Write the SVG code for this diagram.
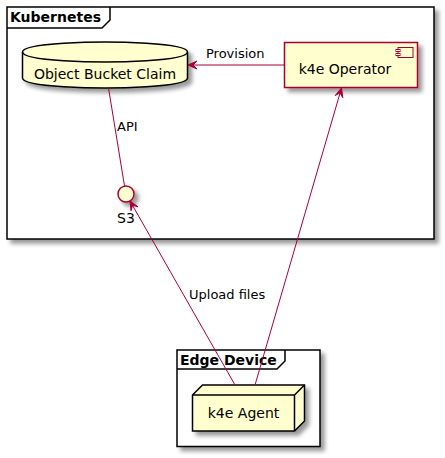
<svg xmlns="http://www.w3.org/2000/svg" width="445" height="458" viewBox="0 0 445 458">
<defs>
<filter id="sh" height="300%" width="300%" x="-1" y="-1">
<feGaussianBlur result="b1" stdDeviation="2.0"/>
<feColorMatrix in="b1" result="b2" type="matrix" values="0 0 0 0 0 0 0 0 0 0 0 0 0 0 0 0 0 0 .4 0"/>
<feOffset dx="4.0" dy="4.0" in="b2" result="b3"/>
<feBlend in="SourceGraphic" in2="b3" mode="normal"/>
</filter>
<style>
text{font-family:"DejaVu Sans","Liberation Sans",sans-serif;fill:#000}
.title{font-size:14px;font-weight:bold}
.lbl{font-size:14px}
.elbl{font-size:13px}
.frame{fill:#FFFFFF;stroke:#000;stroke-width:1.5}
.tab{fill:none;stroke:#000;stroke-width:1.5}
.elem{fill:#FEFECE;stroke-width:1.5}
.conn{fill:none;stroke:#A80036;stroke-width:1}
.head{fill:#A80036;stroke:#A80036;stroke-width:1}
</style>
</defs>

<g id="frame-kubernetes">
<rect class="frame" x="7" y="7" width="427" height="232" filter="url(#sh)"/>
<path class="tab" d="M7,28 L102,28 L110,20 L110,7"/>
<text class="title" x="10" y="22">Kubernetes</text>
</g>

<g id="frame-edge">
<rect class="frame" x="177" y="350" width="143" height="96.5" filter="url(#sh)"/>
<path class="tab" d="M177,369 L277,369 L285,361 L285,350"/>
<text class="title" x="180" y="364.5">Edge Device</text>
</g>

<g id="node-obc">
<path class="elem" stroke="#000" filter="url(#sh)" d="M22.5,52 C22.5,42 105,42 105,42 C105,42 187.5,42 187.5,52 L187.5,78 C187.5,88 105,88 105,88 C105,88 22.5,88 22.5,78 Z"/>
<path fill="none" stroke="#000" stroke-width="1.5" d="M22.5,52 C22.5,62 105,62 105,62 C105,62 187.5,62 187.5,52"/>
<text class="lbl" x="105" y="78.5" text-anchor="middle">Object Bucket Claim</text>
</g>

<g id="node-operator">
<rect class="elem" stroke="#A80036" x="284.5" y="42.5" width="133" height="45" filter="url(#sh)"/>
<rect class="elem" stroke="#A80036" stroke-width="1" x="398" y="47.5" width="15" height="10" style="stroke-width:1"/>
<rect class="elem" stroke="#A80036" x="396" y="49.5" width="4" height="2" style="stroke-width:1"/>
<rect class="elem" stroke="#A80036" x="396" y="53.5" width="4" height="2" style="stroke-width:1"/>
<text class="lbl" x="345" y="73.5" text-anchor="middle">k4e Operator</text>
</g>

<g id="node-s3">
<circle class="elem" stroke="#A80036" cx="126" cy="194" r="8" filter="url(#sh)"/>
<text class="lbl" x="126" y="223" text-anchor="middle">S3</text>
</g>

<g id="node-agent">
<path class="elem" stroke="#000" filter="url(#sh)" d="M192.5,395 L202.5,385 L304.5,385 L304.5,421 L294.5,431 L192.5,431 Z"/>
<path fill="none" stroke="#000" stroke-width="1.5" d="M192.5,395 L294.5,395 L304.5,385 M294.5,395 L294.5,431"/>
<text class="lbl" x="243.5" y="418" text-anchor="middle">k4e Agent</text>
</g>

<g id="connectors">
<path class="conn" d="M284.5,65 L188,65"/>
<polygon class="head" points="188,65 197,61 193,65 197,69"/>
<text class="elbl" x="206" y="58">Provision</text>

<path class="conn" d="M108.5,88 L124.5,186"/>
<text class="elbl" x="117" y="131">API</text>

<path class="conn" d="M235,385 L130,201"/>
<polygon class="head" points="130,201 138,206.8 132.5,205.3 131,210.8"/>
<text class="elbl" x="189" y="299">Upload files</text>

<path class="conn" d="M255,385 L341.5,88"/>
<polygon class="head" points="341.5,88 342.8,97.8 340.1,92.8 335.2,95.5"/>
</g>
</svg>
